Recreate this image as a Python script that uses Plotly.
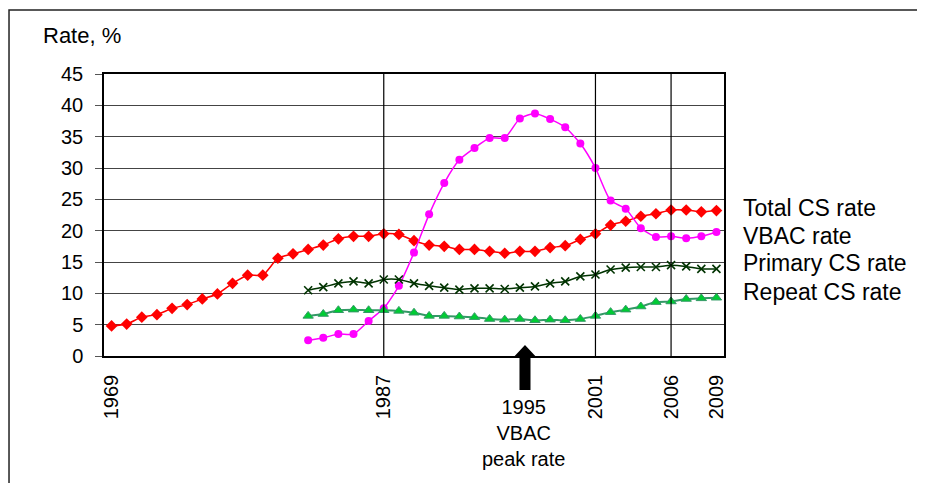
import plotly.graph_objects as go

years = list(range(1969, 2010))

total_cs = [4.8, 5.1, 6.2, 6.6, 7.6, 8.2, 9.1, 9.9, 11.6, 12.9, 12.9, 15.6, 16.3, 17.0,
            17.7, 18.7, 19.1, 19.1, 19.5, 19.4, 18.4, 17.7, 17.5, 17.0, 17.0, 16.7, 16.4,
            16.7, 16.7, 17.3, 17.6, 18.6, 19.5, 20.9, 21.5, 22.3, 22.7, 23.3, 23.3, 23.0, 23.2]

sub_years = list(range(1982, 2010))
vbac = [2.5, 2.9, 3.5, 3.5, 5.6, 7.6, 11.2, 16.5, 22.6, 27.6, 31.3, 33.2, 34.8, 34.8,
        37.9, 38.7, 37.8, 36.5, 33.9, 30.0, 24.8, 23.5, 20.4, 19.0, 19.1, 18.8, 19.1, 19.8]
primary_cs = [10.5, 11.0, 11.6, 11.9, 11.6, 12.2, 12.2, 11.6, 11.2, 10.9, 10.6, 10.8, 10.8,
              10.7, 10.9, 11.1, 11.6, 11.9, 12.7, 13.0, 13.8, 14.1, 14.2, 14.2, 14.5, 14.3,
              13.9, 13.9]
repeat_cs = [6.4, 6.7, 7.3, 7.4, 7.3, 7.3, 7.2, 6.9, 6.4, 6.4, 6.3, 6.2, 5.9, 5.8, 5.9,
             5.7, 5.8, 5.7, 5.9, 6.4, 7.0, 7.4, 7.9, 8.6, 8.7, 9.1, 9.2, 9.3]

tick_years = [1969, 1987, 2001, 2006, 2009]
marker_years = [1987, 2001, 2006]
series_names = ["Total CS rate", "VBAC rate", "Primary CS rate", "Repeat CS rate"]
peak_year_label = "1995"
arrow_year = 1996.34

FONT = "Liberation Sans, Arial, sans-serif"
x0, x1 = 1968.5, 2009.5

fig = go.Figure()
fig.add_trace(go.Scatter(x=years, y=total_cs, mode="lines+markers", name=series_names[0],
                         line=dict(color="#FF0000", width=1.5, shape="spline", smoothing=0.6),
                         marker=dict(symbol="diamond", size=9, color="#FF0000")))
fig.add_trace(go.Scatter(x=sub_years, y=vbac, mode="lines+markers", name=series_names[1],
                         line=dict(color="#FF00FF", width=1.5, shape="spline", smoothing=0.6),
                         marker=dict(symbol="circle", size=8, color="#FF00FF")))
fig.add_trace(go.Scatter(x=sub_years, y=primary_cs, mode="lines+markers", name=series_names[2],
                         line=dict(color="#003300", width=1.5, shape="spline", smoothing=0.6),
                         marker=dict(symbol="x-thin-open", size=8, color="#003300",
                                     line=dict(color="#003300", width=1.6))))
fig.add_trace(go.Scatter(x=sub_years, y=repeat_cs, mode="lines+markers", name=series_names[3],
                         line=dict(color="#339966", width=2, shape="spline", smoothing=0.6),
                         marker=dict(symbol="triangle-up", size=9, color="#00CC33",
                                     line=dict(color="#339966", width=1))))

shapes = []
for yr in marker_years:
    shapes.append(dict(type="line", xref="x", yref="paper", x0=yr, x1=yr, y0=0, y1=1,
                       line=dict(color="#000000", width=1.2), layer="above"))

# outer chart frame
shapes.append(dict(type="rect", xref="paper", yref="paper", x0=-0.1532, x1=2.0,
                   y0=-0.9, y1=1.227, line=dict(color="#222222", width=1.5),
                   fillcolor="rgba(0,0,0,0)", layer="below"))

# block arrow for peak annotation
span = x1 - x0
ax = (arrow_year - x0) / span
hw = 0.727 / span
sw = 0.364 / span
path = (f"M {ax - sw} -0.121 L {ax - sw} -0.003 L {ax - hw} -0.003 L {ax} 0.039 "
        f"L {ax + hw} -0.003 L {ax + sw} -0.003 L {ax + sw} -0.121 Z")
shapes.append(dict(type="path", xref="paper", yref="paper", path=path,
                   fillcolor="#000000", line=dict(color="#000000", width=0), layer="above"))

annotations = [
    dict(text="Rate, %", xref="paper", yref="paper", x=-0.101, y=1.135,
         xanchor="left", yanchor="middle", showarrow=False,
         font=dict(family=FONT, size=22, color="#000000")),
    dict(text=f"{peak_year_label}<br>VBAC<br>peak rate", xref="paper", yref="paper",
         x=ax - 0.002, y=-0.135, xanchor="center", yanchor="top", showarrow=False,
         font=dict(family=FONT, size=20, color="#000000")),
]
legend_y = [0.525, 0.4255, 0.33, 0.227]
for name, ly in zip(series_names, legend_y):
    annotations.append(dict(text=name, xref="paper", yref="paper", x=1.027, y=ly,
                            xanchor="left", yanchor="middle", showarrow=False,
                            font=dict(family=FONT, size=23, color="#000000")))

fig.update_layout(
    width=917, height=475,
    margin=dict(l=96, r=201, t=66, b=127),
    paper_bgcolor="#FFFFFF", plot_bgcolor="#FFFFFF",
    showlegend=False,
    font=dict(family=FONT, size=20, color="#000000"),
    shapes=shapes, annotations=annotations,
    xaxis=dict(range=[x0, x1], tickvals=tick_years, ticktext=[str(t) for t in tick_years],
               tickangle=-90, showgrid=False, zeroline=False, ticks="",
               showline=True, linecolor="#000000", linewidth=1.5, mirror=True,
               ticklabelstandoff=9, tickfont=dict(family=FONT, size=20)),
    yaxis=dict(range=[0, 45], dtick=5, showgrid=True, gridcolor="#444444", gridwidth=1.2,
               zeroline=False, ticks="outside", ticklen=7, tickcolor="#555555",
               showline=True, linecolor="#000000", linewidth=1.5, mirror=True,
               ticklabelstandoff=8, tickfont=dict(family=FONT, size=20)),
)

fig.write_html("out.html")
